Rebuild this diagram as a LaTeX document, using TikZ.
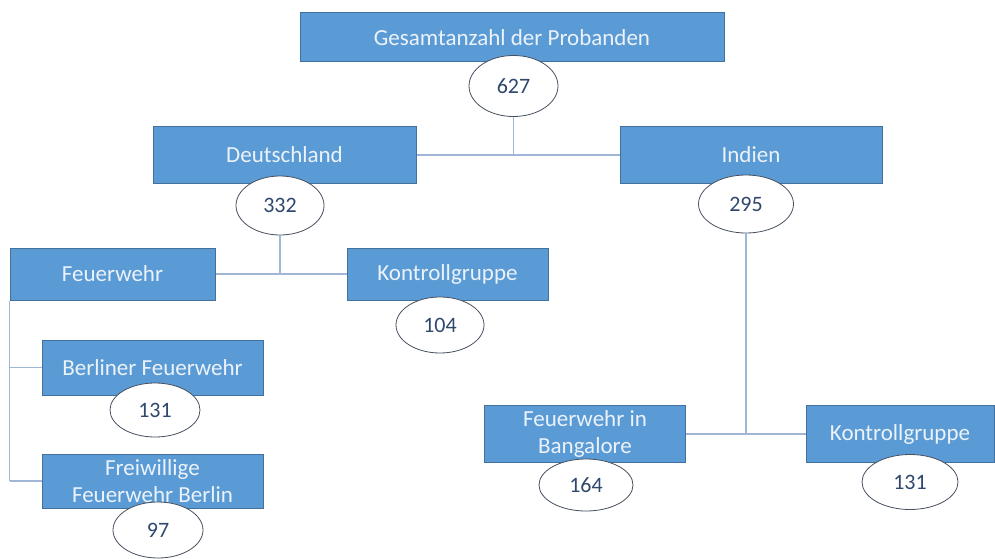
\documentclass[tikz,border=0pt]{standalone}
\usepackage{fontspec}
\setmainfont{Carlito}
\usetikzlibrary{shapes.geometric}
\definecolor{boxfill}{RGB}{91,155,213}
\definecolor{boxline}{RGB}{65,113,156}
\definecolor{boxtext}{RGB}{235,242,250}
\definecolor{numtext}{RGB}{47,72,110}
\definecolor{ellline}{RGB}{70,80,95}
\definecolor{connline}{RGB}{160,182,214}
\tikzset{
  box/.style={draw=boxline, fill=boxfill, line width=1pt, text=boxtext,
    font=\fontsize{23}{27}\selectfont, align=center, inner sep=0pt},
  num/.style={ellipse, draw=ellline, fill=white, line width=0.8pt, text=numtext,
    font=\fontsize{22}{24}\selectfont, inner sep=0pt},
  conn/.style={draw=connline, line width=1.2pt}
}
\begin{document}
\begin{tikzpicture}[x=1pt,y=-1pt]
\useasboundingbox (0,0) rectangle (995,559);
% boxes
\node[box, minimum width=424, minimum height=49] (top) at (512,37.5) {Gesamtanzahl der Probanden};
\node[box, minimum width=263, minimum height=56] (de) at (284.5,155) {Deutschland};
\node[box, minimum width=262, minimum height=56] (in) at (751,155) {Indien};
\node[box, minimum width=205, minimum height=52] (fw) at (112.5,274) {Feuerwehr};
\node[box, minimum width=201, minimum height=52] (kg) at (447.5,274) {Kontrollgruppe};
\node[box, minimum width=221, minimum height=55] (bf) at (152.5,367.5) {Berliner Feuerwehr};
\node[box, minimum width=221, minimum height=54] (ffb) at (152.5,481) {Freiwillige\\Feuerwehr Berlin};
\node[box, minimum width=201, minimum height=57] (fb) at (585,434) {Feuerwehr in\\Bangalore};
\node[box, minimum width=188, minimum height=57] (kg2) at (900,434) {Kontrollgruppe};
% connectors
\draw[conn] (fb.east) -- (kg2.west);
\draw[conn] (de.east) -- (in.west);
\draw[conn] (fw.east) -- (kg.west);
% ellipses
\node[num, minimum width=89, minimum height=61] (e627) at (513.5,86) {627};
\node[num, minimum width=88, minimum height=59] (e332) at (280,205.5) {332};
\node[num, minimum width=95, minimum height=58] (e295) at (746,204) {295};
\node[num, minimum width=88, minimum height=56] (e104) at (440,325) {104};
\node[num, minimum width=90, minimum height=54] (e131a) at (155,410) {131};
\node[num, minimum width=90, minimum height=56] (e97) at (158,530) {97};
\node[num, minimum width=94, minimum height=52] (e164) at (586,485) {164};
\node[num, minimum width=96, minimum height=55] (e131b) at (910,482) {131};
% vertical connectors
\draw[conn] (e627.south) -- (e627.south |- de.east);
\draw[conn] (e332.south) -- (e332.south |- fw.east);
\draw[conn] (e295.south) -- (e295.south |- fb.east);
\draw[conn] (fw.south west) -- (fw.south west |- ffb.west);
\draw[conn] (fw.south west |- bf.west) -- (bf.west);
\draw[conn] (fw.south west |- ffb.west) -- (ffb.west);
\end{tikzpicture}
\end{document}
